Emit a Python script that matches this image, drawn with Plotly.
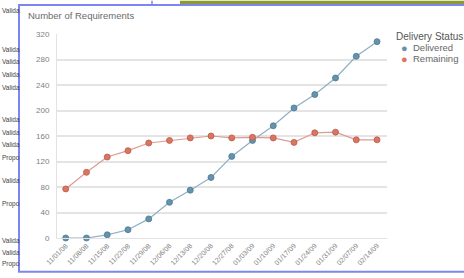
import plotly.graph_objects as go

# ---- data ----
dates = ["11/01/08", "11/08/08", "11/15/08", "11/22/08", "11/29/08", "12/06/08",
         "12/13/08", "12/20/08", "12/27/08", "01/03/09", "01/10/09", "01/17/09",
         "01/24/09", "01/31/09", "02/07/09", "02/14/09"]
delivered = [0, 0, 5, 13, 30, 56, 75, 95, 128, 153, 176, 204, 225, 251, 285, 308]
remaining = [77, 103, 127, 137, 149, 153, 157, 160, 157, 158, 157, 150, 165, 166, 154, 154]
y_ticks = [0, 40, 80, 120, 160, 200, 240, 280, 320]
series_names = ["Delivered", "Remaining"]
legend_title = "Delivery Status"
y_title = "Number of Requirements"
side_texts = ["Valida", "Valida", "Valida", "Valida", "Valida", "Valida", "Valida",
              "Valida", "Propo", "Valida", "Propo", "Valida", "Valida", "Propo"]
side_text_y = [10, 50, 62, 75, 89, 121, 134, 147, 160, 183, 207, 245, 257, 269]

# ---- layout geometry (pixels) ----
W, H = 464, 278
L, R, T, B = 57, 77, 34, 36
PW, PH = W - L - R, H - T - B


def px(x):
    return (x - L) / PW


def py(y):
    return (H - B - y) / PH


blue_c, blue_line = "#6593ad", "#8fb0c2"
red_c, red_line = "#dc7461", "#dd9c92"

fig = go.Figure()
fig.add_trace(go.Scatter(
    x=dates, y=delivered, mode="lines+markers", name=series_names[0],
    line=dict(color=blue_line, width=1.2),
    marker=dict(size=6, color=blue_c, line=dict(color="#4d7890", width=0.8)),
    cliponaxis=False, showlegend=False))
fig.add_trace(go.Scatter(
    x=dates, y=remaining, mode="lines+markers", name=series_names[1],
    line=dict(color=red_line, width=1.2),
    marker=dict(size=6, color=red_c, line=dict(color="#b95a4a", width=0.8)),
    cliponaxis=False, showlegend=False))

shapes = [
    # green bar at the top of the page
    dict(type="rect", xref="paper", yref="paper", x0=px(180), x1=px(470), y0=py(0), y1=py(4.5),
         fillcolor="#8c9a2e", line=dict(width=0), layer="below"),
    dict(type="line", xref="paper", yref="paper", x0=px(152), x1=px(152), y0=py(0), y1=py(4.5),
         line=dict(color="#7b86f2", width=1.5)),
    # panel border
    dict(type="rect", xref="paper", yref="paper", x0=px(19), x1=px(470), y0=py(4.5), y1=py(276.5),
         fillcolor="rgba(0,0,0,0)", line=dict(color="#7b86f2", width=2), layer="above"),
]

annotations = [
    dict(text=y_title, xref="paper", yref="paper", x=px(26), y=py(15), xanchor="left",
         yanchor="middle", showarrow=False, font=dict(size=9.5, color="#6a6a6a")),
    dict(text=legend_title, xref="paper", yref="paper", x=px(394), y=py(37), xanchor="left",
         yanchor="middle", showarrow=False, font=dict(size=10, color="#555555")),
]
for i, (name, col) in enumerate(zip(series_names, [blue_c, red_c])):
    yy = 48 + 11 * i
    annotations.append(dict(text="●", xref="paper", yref="paper", x=px(404), y=py(yy),
                            xanchor="center", yanchor="middle", showarrow=False,
                            font=dict(size=11, color=col)))
    annotations.append(dict(text=name, xref="paper", yref="paper", x=px(411), y=py(yy),
                            xanchor="left", yanchor="middle", showarrow=False,
                            font=dict(size=9.5, color="#666666")))
for t, yy in zip(side_texts, side_text_y):
    annotations.append(dict(text=t, xref="paper", yref="paper", x=px(0), y=py(yy),
                            xanchor="left", yanchor="middle", showarrow=False,
                            font=dict(size=6.5, color="#444444")))

fig.update_layout(
    width=W, height=H,
    margin=dict(l=L, r=R, t=T, b=B),
    paper_bgcolor="white", plot_bgcolor="white",
    font=dict(family="Liberation Sans, Arial, sans-serif"),
    showlegend=False,
    shapes=shapes, annotations=annotations,
    xaxis=dict(type="category", range=[-0.42, 15.48], tickangle=-45,
               tickfont=dict(size=7, color="#808080"), showgrid=False,
               showline=True, linecolor="#e2e2e2", linewidth=1, ticks="",
               zeroline=False, fixedrange=True),
    yaxis=dict(range=[0, 320], tickvals=y_ticks, tickfont=dict(size=8, color="#808080"),
               showgrid=True, gridcolor="#e4e4e4", gridwidth=1.6,
               showline=True, linecolor="#e2e2e2", linewidth=1, ticks="",
               ticklabelstandoff=5, zeroline=False, fixedrange=True),
)

fig.write_html("out.html", config={"displayModeBar": False},
               post_script="document.body.style.margin='0';document.body.style.overflow='hidden';")
